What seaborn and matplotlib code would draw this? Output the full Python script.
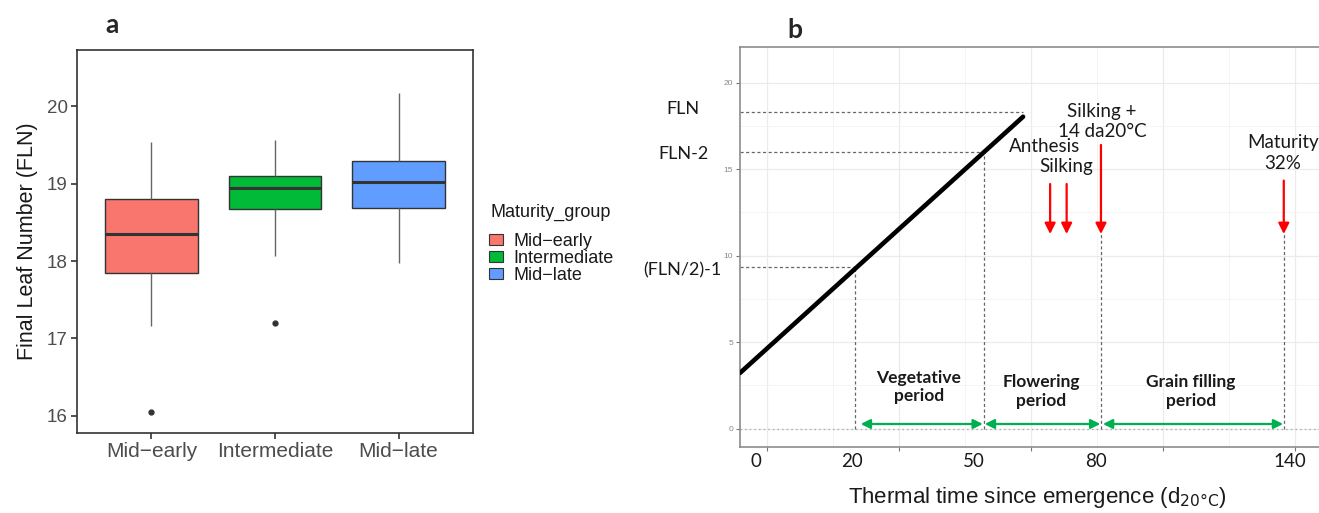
import numpy as np
import pandas as pd
import matplotlib
matplotlib.use("Agg")
import matplotlib.pyplot as plt
import seaborn as sns
from matplotlib.patches import Patch

# ---------------- Panel a data (sample values reproducing the box statistics) ----------------
groups = ["Mid-early", "Intermediate", "Mid-late"]
group_labels = ["Mid\u2212early", "Intermediate", "Mid\u2212late"]
mid_early = [16.05, 17.16, 17.85, 18.10, 18.35, 18.60, 18.80, 19.20, 19.54]
intermediate = [17.20, 18.07, 18.67, 18.80, 18.94, 19.00, 19.10, 19.30, 19.56]
mid_late = [17.97, 18.30, 18.68, 18.85, 19.02, 19.15, 19.29, 19.70, 20.17]
palette = ["#F8766D", "#00BA38", "#619CFF"]
yticks_a = [16, 17, 18, 19, 20]

# ---------------- Panel b data ----------------
line_tt = [-4.09, 38.8]
line_leaves = [3.22, 18.03]
fln_val, fln2_val, half_val = 18.32, 16.01, 9.33
tt_half, tt_fln2, tt_fln = 13.3, 32.9, 38.8
tt_anthesis, tt_silking, tt_silk14, tt_maturity = 42.9, 45.4, 50.6, 78.3
tick_pos_b = [-1.7, 12.9, 31.4, 49.8, 79.2]
tick_labels_b = ["0", "20", "50", "80", "140"]
yticks_b = [0, 5, 10, 15, 20]

W, H = 1319, 513
sns.set_theme(style="white")
plt.rcParams["font.family"] = ["Liberation Sans", "DejaVu Sans"]

fig = plt.figure(figsize=(W / 100, H / 100), dpi=100)


def rect(l, t, r, b):
    return [l / W, 1 - b / H, (r - l) / W, (b - t) / H]


# ================= Panel a =================
axa = fig.add_axes(rect(77.3, 50, 472.7, 432.7))
df = pd.DataFrame({
    "Maturity_group": (["Mid-early"] * len(mid_early) + ["Intermediate"] * len(intermediate)
                       + ["Mid-late"] * len(mid_late)),
    "FLN": mid_early + intermediate + mid_late,
})
sns.boxplot(data=df, x="Maturity_group", y="FLN", hue="Maturity_group", order=groups,
            hue_order=groups, palette=palette, width=0.75, linewidth=1.0, linecolor="#333333",
            showcaps=False, saturation=1, legend=False, ax=axa,
            medianprops=dict(color="#333333", linewidth=2.2),
            whiskerprops=dict(color="#666666", linewidth=1.0),
            flierprops=dict(marker="o", markersize=3.5, markerfacecolor="#333333",
                            markeredgecolor="#333333"))
axa.set_xlim(-0.6, 2.6)
axa.set_ylim(15.78, 20.73)
axa.set_yticks(yticks_a)
axa.set_yticklabels([str(v) for v in yticks_a])
axa.set_xticks(range(len(groups)))
axa.set_xticklabels(group_labels)
axa.tick_params(axis="both", which="major", length=4, width=1.2, color="#333333",
                labelcolor="#4D4D4D", pad=3, left=True, bottom=True)
axa.tick_params(axis="x", labelsize=15)
axa.tick_params(axis="y", labelsize=13.5)
axa.set_xlabel("")
axa.set_ylabel("Final Leaf Number (FLN)", fontsize=15.5, color="#1a1a1a", labelpad=6)
for s in axa.spines.values():
    s.set_color("#333333")
    s.set_linewidth(1.2)
axa.grid(False)

fig.text(490 / W, 1 - 212 / H, "Maturity_group", fontsize=13, color="#1a1a1a",
         ha="left", va="center")
handles = [Patch(facecolor=c, edgecolor="#333333", linewidth=0.8) for c in palette]
leg = fig.legend(handles, group_labels, loc="upper left",
                 bbox_to_anchor=(489 / W, 1 - 233 / H), frameon=False, fontsize=13,
                 handlelength=0.75, handleheight=0.6, labelspacing=0.0,
                 handletextpad=0.6, borderpad=0, borderaxespad=0)
for t in leg.get_texts():
    t.set_color("#1a1a1a")

fig.text(112 / W, 1 - 25 / H, "a", fontsize=19, fontweight="bold", family="Lato",
         ha="center", va="center")

# ================= Panel b =================
axb = fig.add_axes(rect(740, 47, 1319, 447))
sns.lineplot(x=line_tt, y=line_leaves, color="black", linewidth=3.3, ax=axb, zorder=5)
px_per_unit = 6.6
axb.set_xlim((740 - 767) / px_per_unit, (1319 - 767) / px_per_unit)
axb.set_ylim(-1.06, 22.06)
axb.set_xticks([0, 20, 40, 60, 80])
axb.set_xticks([10, 30, 50, 70], minor=True)
axb.set_yticks(yticks_b)
axb.set_yticks([2.5, 7.5, 12.5, 17.5], minor=True)
axb.set_xticklabels([])
axb.set_yticklabels([str(v) for v in yticks_b])
axb.grid(True, which="major", color="#EBEBEB", linewidth=0.9)
axb.grid(True, which="minor", color="#F3F3F3", linewidth=0.6)
axb.tick_params(axis="both", which="major", length=3, width=0.8, color="#777777",
                labelsize=6, labelcolor="#888888", pad=2, left=True, bottom=True)
axb.tick_params(axis="both", which="minor", length=0)
axb.set_xlabel("")
axb.set_ylabel("")
for name, s in axb.spines.items():
    s.set_color("#8C8C8C")
    s.set_linewidth(1.2)
axb.spines["right"].set_visible(False)

dash = dict(color="#666666", linewidth=0.9, linestyle=(0, (2.5, 2)))
xl = axb.get_xlim()[0]
# horizontal reference lines
axb.plot([xl, tt_fln], [fln_val, fln_val], **dash)
axb.plot([xl, tt_fln2], [fln2_val, fln2_val], **dash)
axb.plot([xl, tt_half], [half_val, half_val], **dash)
axb.plot([xl, axb.get_xlim()[1]], [0, 0], color="#AAAAAA", linewidth=0.9,
         linestyle=(0, (1.2, 2.5)))
# vertical reference lines
axb.plot([tt_half, tt_half], [0, half_val], **dash)
axb.plot([tt_fln2, tt_fln2], [0, fln2_val], **dash)
tip_y = 11.25
axb.plot([tt_silk14, tt_silk14], [0, tip_y], **dash)
axb.plot([tt_maturity, tt_maturity], [0, tip_y], **dash)

# red arrows
red = dict(arrowstyle="-|>", color="red", lw=1.6, mutation_scale=16, shrinkA=0, shrinkB=0)
axb.annotate("", xy=(tt_anthesis, tip_y), xytext=(tt_anthesis, 14.14), arrowprops=red)
axb.annotate("", xy=(tt_silking, tip_y), xytext=(tt_silking, 14.14), arrowprops=red)
axb.annotate("", xy=(tt_silk14, tip_y), xytext=(tt_silk14, 16.4), arrowprops=red)
axb.annotate("", xy=(tt_maturity, tip_y), xytext=(tt_maturity, 14.34), arrowprops=red)

# green double arrows
green = dict(arrowstyle="<|-|>", color="#00B050", lw=1.6, mutation_scale=14,
             shrinkA=0, shrinkB=0)
ya = 0.27
axb.annotate("", xy=(14.2, ya), xytext=(32.7, ya), arrowprops=green)
axb.annotate("", xy=(33.0, ya), xytext=(50.5, ya), arrowprops=green)
axb.annotate("", xy=(50.9, ya), xytext=(78.2, ya), arrowprops=green)

lato = ["Lato", "DejaVu Sans"]
tkw = dict(family=lato, fontsize=13.5, color="#1a1a1a", ha="center", va="center")
axb.text(50.7, 18.36, "Silking +", **tkw)
axb.text(50.8, 17.15, "14 da20°C", **tkw)
axb.text(42.1, 16.28, "Anthesis", **tkw)
axb.text(45.4, 15.14, "Silking", **tkw)
axb.text(78.2, 16.53, "Maturity", **tkw)
axb.text(78.2, 15.3, "32%", **tkw)

bkw = dict(family=lato, fontsize=12.5, fontweight="bold", color="#1a1a1a", ha="center",
           va="center", linespacing=1.2)
axb.text(23.0, 2.4, "Vegetative\nperiod", **bkw)
axb.text(41.6, 2.15, "Flowering\nperiod", **bkw)
axb.text(64.2, 2.15, "Grain filling\nperiod", **bkw)

lkw = dict(family=lato, fontsize=13, color="#1a1a1a", ha="center", va="center",
           clip_on=False)
axb.text((683 - 767) / px_per_unit, 18.48, "FLN", **lkw)
axb.text((683 - 767) / px_per_unit, 15.9, "FLN-2", **lkw)
axb.text((682 - 767) / px_per_unit, 9.17, "(FLN/2)-1", **lkw)

trans = axb.get_xaxis_transform()
for pos, lab in zip(tick_pos_b, tick_labels_b):
    axb.text(pos, -14.7 / 400, lab, transform=trans, family=lato, fontsize=13.5,
             color="#1a1a1a", ha="center", va="center", clip_on=False)

fig.text(1037 / W, 1 - 497 / H, r"Thermal time since emergence (d$_{\mathrm{20°C}}$)",
         fontsize=16, color="#1a1a1a", ha="center", va="center")
fig.text(795 / W, 1 - 30 / H, "b", fontsize=19, fontweight="bold", family="Lato",
         ha="center", va="center")

fig.savefig("out.png", dpi=100)
